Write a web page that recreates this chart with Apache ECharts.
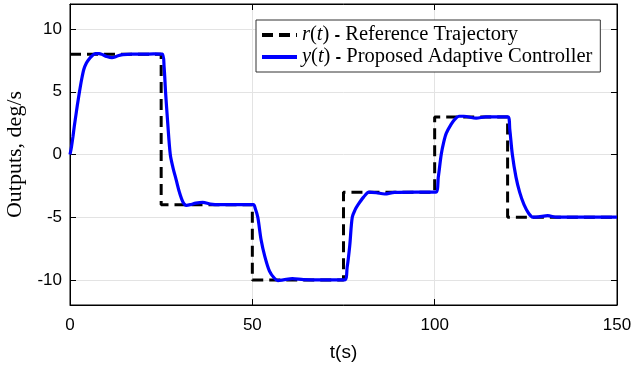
<!DOCTYPE html>
<html>
<head>
<meta charset="utf-8">
<script src="https://cdn.jsdelivr.net/npm/echarts@6/dist/echarts.min.js"></script>
<style>html,body{margin:0;padding:0;background:#fff;}#c{width:632px;height:374px;}</style>
</head>
<body>
<div id="c"></div>
<script>
// Reference trajectory r(t): step changes [t, value]
const refT = [0, 25, 50, 75, 100, 120, 150];
const refV = [8, -4, -10, -3, 3, -5, -5];

// Output y(t)
const outT = [0,0.4,0.8,1.2,1.6,2.0,2.6,3.2,3.8,4.5,5.2,6.0,7.0,8.0,9.0,10.0,11.5,13.0,14.5,17,20,23,25.3,
  25.8,26.2,26.8,27.5,28.2,29.1,30.0,31.0,31.9,33,34.5,36.4,38.5,41,45,50.3,
  50.8,51.5,52.4,53.4,54.7,56,57,58.5,61,64,70,75.3,
  76,76.7,77.4,78.2,79,80.5,82,84,86.3,89,95,100.3,
  101,101.8,102.5,103.2,104.5,105.5,106.7,108,111.4,114,120.1,
  120.6,121.3,122.3,123.3,124.5,125.8,127,128.5,131,133.5,140,150];
const outV = [0,0.6,1.4,2.3,3.1,3.9,5.0,6.0,6.8,7.3,7.6,7.85,8.05,8.05,7.95,7.82,7.72,7.85,7.97,8.0,8.0,8.02,8.0,
  7.0,5.0,2.5,0.0,-1.0,-2.0,-3.0,-3.8,-4.05,-4.0,-3.88,-3.82,-3.95,-4.0,-4.0,-4.0,
  -4.3,-5.0,-6.8,-8.1,-9.3,-9.85,-10.05,-10.0,-9.9,-9.98,-10.0,-10.0,
  -9.0,-7.3,-5.0,-4.4,-4.0,-3.4,-3.0,-3.05,-3.15,-3.02,-3.0,-3.0,
  -1.8,0.0,1.0,1.7,2.4,2.8,3.05,3.05,2.9,3.0,3.0,
  2.0,0.0,-1.8,-3.0,-4.0,-4.7,-5.0,-4.98,-4.88,-5.0,-5.0,-5.0];

const xTicks = [0, 50, 100, 150];
const yTicks = [-10, -5, 0, 5, 10];

const refData = refT.map((t, i) => [t, refV[i]]);
const outData = outT.map((t, i) => [t, outV[i]]);

const chart = echarts.init(document.getElementById('c'));
const gridLine = { show: true, lineStyle: { color: '#e3e3e3', width: 1 } };
const tick = { show: true, inside: true, length: 6, lineStyle: { color: '#000' } };
const aLine = { show: true, onZero: false, lineStyle: { color: '#000', width: 1 } };
const fs = 20.5;
chart.setOption({
  animation: false,
  backgroundColor: '#fff',
  grid: { left: 70, right: 15, top: 4, bottom: 69, show: true, borderColor: '#000', borderWidth: 1,
          containLabel: false, outerBoundsMode: 'none' },
  legend: {
    orient: 'vertical', left: 256, top: 20,
    padding: [4, 8, 4, 4], itemGap: 0, itemWidth: 35, itemHeight: 14,
    borderColor: '#333', borderWidth: 1, backgroundColor: '#fff',
    itemStyle: { opacity: 0 },
    lineStyle: { width: 4 },
    data: ['r', 'y'],
    formatter: function (n) {
      if (n === 'r') return '{i|r}{n|(}{i|t}{n|) }{s|-}{n| Reference Trajectory}';
      return '{i|y}{n|(}{i|t}{n|) }{s|-}{n| Proposed Adaptive Controller}';
    },
    textStyle: {
      lineHeight: 22,
      rich: {
        i: { fontFamily: 'Liberation Serif', fontStyle: 'italic', fontSize: fs, color: '#000', lineHeight: 22 },
        n: { fontFamily: 'Liberation Serif', fontSize: fs, color: '#000', lineHeight: 22 },
        s: { fontFamily: 'Liberation Sans', fontWeight: 'bold', fontSize: 17, color: '#000', lineHeight: 22 }
      }
    }
  },
  xAxis: [{
    type: 'value', min: 0, max: 150, interval: 50,
    name: 't(s)', nameLocation: 'middle', nameGap: 38,
    nameTextStyle: { fontFamily: 'Liberation Sans', fontSize: 19, color: '#000' },
    axisLine: aLine, axisTick: tick,
    axisLabel: { fontFamily: 'Liberation Sans', fontSize: 17, color: '#000', margin: 12 },
    splitLine: gridLine
  }, {
    type: 'value', min: 0, max: 150, interval: 50, position: 'top',
    axisLine: aLine, axisTick: tick,
    axisLabel: { show: false }, splitLine: { show: false }
  }],
  yAxis: [{
    type: 'value', min: -12, max: 12,
    axisTick: Object.assign({ customValues: yTicks }, tick),
    axisLabel: { fontFamily: 'Liberation Sans', fontSize: 17, color: '#000', margin: 8, customValues: yTicks },
    name: 'Outputs, deg/s', nameLocation: 'middle', nameGap: 40,
    nameTextStyle: { fontFamily: 'Liberation Serif', fontSize: 22, color: '#000' },
    axisLine: aLine,
    splitLine: gridLine
  }, {
    type: 'value', min: -12, max: 12, position: 'right',
    axisLine: aLine,
    axisTick: Object.assign({ customValues: yTicks }, tick),
    axisLabel: { show: false }, splitLine: { show: false }
  }],
  series: [{
    name: 'r', type: 'line', step: 'end', data: refData,
    symbol: 'none', showSymbol: false,
    lineStyle: { color: '#000', width: 3, type: [11, 6] },
    itemStyle: { color: '#000' }, z: 2
  }, {
    name: 'y', type: 'line', data: outData, smooth: 0.3,
    symbol: 'none', showSymbol: false,
    lineStyle: { color: '#0000ff', width: 3.2 },
    itemStyle: { color: '#0000ff' }, z: 3
  }]
});
</script>
</body>
</html>
